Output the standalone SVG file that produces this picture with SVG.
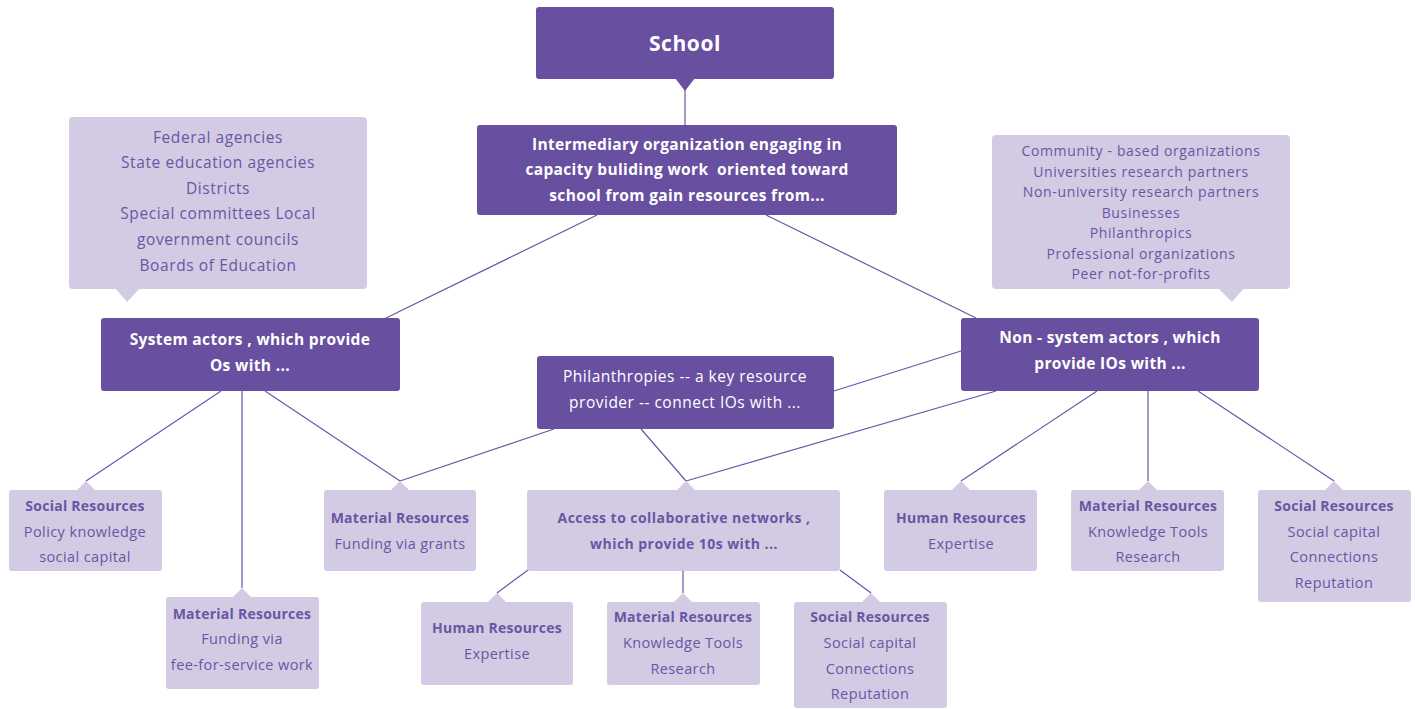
<svg xmlns="http://www.w3.org/2000/svg" width="1415" height="709" viewBox="0 0 1415 709">
<style>
.dk{fill:#684fa0}
.lt{fill:#d3cbe3}
.ln{stroke:#6a55a8;stroke-width:1.2;fill:none}
text{font-family:"Open Sans","Liberation Sans",sans-serif;text-anchor:middle}
.wb{fill:#fff;font-weight:700;font-size:15.5px;letter-spacing:0.35px}
.wr{fill:#fff;font-size:15.5px;letter-spacing:0.5px}
.pb{fill:#6a55a5;font-weight:700;font-size:14px;letter-spacing:0.25px}
.pr{fill:#6a55a5;font-size:14.5px;letter-spacing:0.4px}
.pc{fill:#6a55a5;font-size:15.5px;letter-spacing:0.6px}
.ps{fill:#6a55a5;font-size:14px;letter-spacing:0.65px}
</style>
<rect width="1415" height="709" fill="#fff"/>
<g id="connectors">
<line class="ln" x1="685" y1="88" x2="685" y2="125"/>
<line class="ln" x1="597" y1="215" x2="386" y2="318"/>
<line class="ln" x1="766" y1="215" x2="976" y2="318"/>
<line class="ln" x1="221" y1="391" x2="86" y2="481"/>
<line class="ln" x1="242" y1="391" x2="242" y2="588"/>
<line class="ln" x1="265" y1="391" x2="400" y2="481"/>
<line class="ln" x1="554" y1="429" x2="400" y2="481"/>
<line class="ln" x1="641" y1="429" x2="686" y2="481"/>
<line class="ln" x1="834" y1="391" x2="961" y2="351"/>
<line class="ln" x1="996" y1="391" x2="686" y2="481"/>
<line class="ln" x1="1097" y1="391" x2="961" y2="481"/>
<line class="ln" x1="1148" y1="391" x2="1148" y2="481"/>
<line class="ln" x1="1198" y1="391" x2="1334" y2="481"/>
<line class="ln" x1="528" y1="570" x2="497" y2="593"/>
<line class="ln" x1="683" y1="571" x2="683" y2="593"/>
<line class="ln" x1="840" y1="570" x2="871" y2="593"/>
</g>
<g id="school">
<rect class="dk" x="536" y="7" width="298" height="72" rx="3"/>
<polygon class="dk" points="675,78 695,78 685,91"/>
<text class="wb" x="685" y="51" style="font-size:21px;letter-spacing:0.6px">School</text>
</g>
<g id="intermediary">
<rect class="dk" x="477" y="125" width="420" height="90" rx="3"/>
<text class="wb" x="687" y="150">Intermediary organization engaging in</text>
<text class="wb" x="687" y="175" xml:space="preserve">capacity buliding work  oriented toward</text>
<text class="wb" x="687" y="201">school from gain resources from...</text>
</g>
<g id="system-callout">
<rect class="lt" x="69" y="117" width="298" height="172" rx="4"/>
<polygon class="lt" points="115,288 140,288 127,302"/>
<text class="pc" x="218" y="143">Federal agencies</text>
<text class="pc" x="218" y="168">State education agencies</text>
<text class="pc" x="218" y="194">Districts</text>
<text class="pc" x="218" y="219">Special committees Local</text>
<text class="pc" x="218" y="245">government councils</text>
<text class="pc" x="218" y="271">Boards of Education</text>
</g>
<g id="nonsystem-callout">
<rect class="lt" x="992" y="135" width="298" height="154" rx="4"/>
<polygon class="lt" points="1218,288 1244,288 1232,302"/>
<text class="ps" x="1141" y="156">Community - based organizations</text>
<text class="ps" x="1141" y="177">Universities research partners</text>
<text class="ps" x="1141" y="197">Non-university research partners</text>
<text class="ps" x="1141" y="218">Businesses</text>
<text class="ps" x="1141" y="238">Philanthropics</text>
<text class="ps" x="1141" y="259">Professional organizations</text>
<text class="ps" x="1141" y="279">Peer not-for-profits</text>
</g>
<g id="system-actors">
<rect class="dk" x="101" y="318" width="299" height="73" rx="3"/>
<text class="wb" x="250" y="345">System actors , which provide</text>
<text class="wb" x="250" y="371">Os with ...</text>
</g>
<g id="nonsystem-actors">
<rect class="dk" x="961" y="318" width="298" height="73" rx="3"/>
<text class="wb" x="1110" y="343">Non - system actors , which</text>
<text class="wb" x="1110" y="369">provide IOs with ...</text>
</g>
<g id="philanthropies">
<rect class="dk" x="537" y="356" width="297" height="73" rx="3"/>
<text class="wr" x="685" y="382">Philanthropies -- a key resource</text>
<text class="wr" x="685" y="408">provider -- connect IOs with ...</text>
</g>
<g id="social-left">
<rect class="lt" x="9" y="490" width="153" height="81" rx="3"/>
<polygon class="lt" points="76,491 86,481 96,491"/>
<text class="pb" x="85" y="511">Social Resources</text>
<text class="pr" x="85" y="537">Policy knowledge</text>
<text class="pr" x="85" y="562">social capital</text>
</g>
<g id="material-fee">
<rect class="lt" x="166" y="597" width="153" height="92" rx="3"/>
<polygon class="lt" points="232,598 242,588 252,598"/>
<text class="pb" x="242" y="619">Material Resources</text>
<text class="pr" x="242" y="644">Funding via</text>
<text class="pr" x="242" y="670">fee-for-service work</text>
</g>
<g id="material-grants">
<rect class="lt" x="324" y="490" width="152" height="81" rx="3"/>
<polygon class="lt" points="390,491 400,481 410,491"/>
<text class="pb" x="400" y="523">Material Resources</text>
<text class="pr" x="400" y="549">Funding via grants</text>
</g>
<g id="access">
<rect class="lt" x="527" y="490" width="313" height="81" rx="3"/>
<polygon class="lt" points="676,491 686,481 696,491"/>
<text class="pb" x="684" y="523" style="letter-spacing:0.45px">Access to collaborative networks ,</text>
<text class="pb" x="684" y="549" style="letter-spacing:0.45px">which provide 10s with ...</text>
</g>
<g id="human-bottom">
<rect class="lt" x="421" y="602" width="152" height="83" rx="3"/>
<polygon class="lt" points="487,603 497,593 507,603"/>
<text class="pb" x="497" y="633">Human Resources</text>
<text class="pr" x="497" y="659">Expertise</text>
</g>
<g id="material-bottom">
<rect class="lt" x="607" y="602" width="153" height="83" rx="3"/>
<polygon class="lt" points="673,603 683,593 693,603"/>
<text class="pb" x="683" y="622">Material Resources</text>
<text class="pr" x="683" y="648">Knowledge Tools</text>
<text class="pr" x="683" y="674">Research</text>
</g>
<g id="social-bottom">
<rect class="lt" x="794" y="602" width="153" height="106" rx="3"/>
<polygon class="lt" points="861,603 871,593 881,603"/>
<text class="pb" x="870" y="622">Social Resources</text>
<text class="pr" x="870" y="648">Social capital</text>
<text class="pr" x="870" y="674">Connections</text>
<text class="pr" x="870" y="699">Reputation</text>
</g>
<g id="human-right">
<rect class="lt" x="884" y="490" width="153" height="81" rx="3"/>
<polygon class="lt" points="951,491 961,481 971,491"/>
<text class="pb" x="961" y="523">Human Resources</text>
<text class="pr" x="961" y="549">Expertise</text>
</g>
<g id="material-right">
<rect class="lt" x="1071" y="490" width="153" height="81" rx="3"/>
<polygon class="lt" points="1138,491 1148,481 1158,491"/>
<text class="pb" x="1148" y="511">Material Resources</text>
<text class="pr" x="1148" y="537">Knowledge Tools</text>
<text class="pr" x="1148" y="562">Research</text>
</g>
<g id="social-right">
<rect class="lt" x="1258" y="490" width="153" height="112" rx="3"/>
<polygon class="lt" points="1324,491 1334,481 1344,491"/>
<text class="pb" x="1334" y="511">Social Resources</text>
<text class="pr" x="1334" y="537">Social capital</text>
<text class="pr" x="1334" y="562">Connections</text>
<text class="pr" x="1334" y="588">Reputation</text>
</g>
</svg>
